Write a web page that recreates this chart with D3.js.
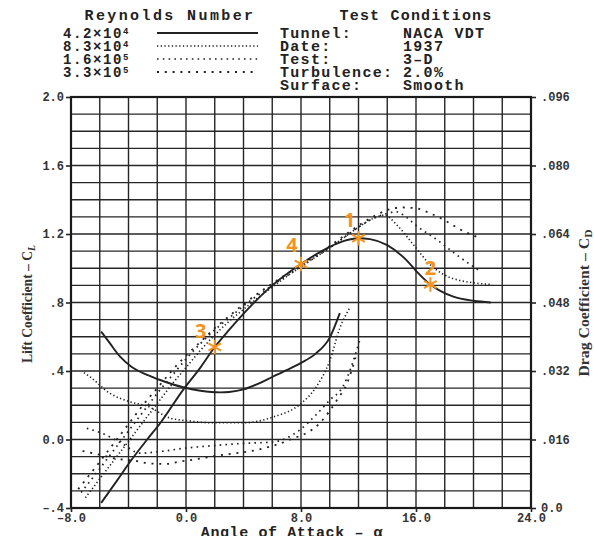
<!DOCTYPE html>
<meta charset="utf-8">
<style>
body { margin: 0; background: #fff; }
svg { display: block; }
.mono { font-family: "Liberation Mono", "DejaVu Sans Mono", monospace; font-weight: bold; fill: #222; }
.grid line { stroke: #262626; stroke-width: 1.4; }
.axis text { font-family: "Liberation Mono", monospace; font-weight: bold; font-size: 12px; fill: #333; }
.axis line { stroke: #222; stroke-width: 1.6; }
.axis path { display: none; }
.curve { fill: none; stroke: #222; }
</style>
<svg width="594" height="536"></svg>
<script src="https://cdn.jsdelivr.net/npm/d3@7"></script>
<script>

// ---- data ----
var reMantissa = ["4.2", "8.3", "1.6", "3.3"];
var reExponent = ["4", "4", "5", "5"];

var condLabels = ["Tunnel:", "Date:", "Test:", "Turbulence:", "Surface:"];
var condValues = ["NACA VDT", "1937", "3\u2013D", "2.0%", "Smooth"];

var alphaTicks = [-8, 0, 8, 16, 24];
var alphaTickLabels = ["\u20138.0", "0.0", "8.0", "16.0", "24.0"];
var liftTicks = [-0.4, 0, 0.4, 0.8, 1.2, 1.6, 2.0];
var liftTickLabels = ["\u2013.4", "0.0", ".4", ".8", "1.2", "1.6", "2.0"];
var dragTicks = [0, 0.016, 0.032, 0.048, 0.064, 0.080, 0.096];
var dragTickLabels = ["0.0", ".016", ".032", ".048", ".064", ".080", ".096"];

// lift coefficient vs angle of attack  [alpha, CL]
var lift42 = [[-5.9,-0.37],[-4.8,-0.24],[-3.8,-0.12],[-2.7,0.0],[-1.8,0.095],[-0.2,0.29],[1.0,0.42],[2.0,0.54],[3.0,0.64],[4.4,0.77],[6.0,0.90],[8.0,1.025],[10.0,1.125],[11.0,1.16],[12.0,1.175],[12.8,1.17],[14.0,1.135],[15.3,1.05],[16.0,0.985],[17.0,0.905],[18.6,0.834],[20.0,0.81],[21.2,0.80]];
var lift83 = [[-7.0,-0.34],[-6,-0.23],[-5,-0.12],[-4,-0.01],[-3,0.10],[-2,0.21],[-1,0.32],[0,0.42],[1,0.52],[2,0.61],[3,0.69],[4,0.76],[6,0.89],[8,1.01],[10,1.12],[11,1.18],[12,1.24],[13,1.29],[13.8,1.31],[14.7,1.25],[15.8,1.14],[17,1.02],[18,0.96],[19,0.93],[20,0.915],[21.3,0.905]];
var lift16 = [[-7.3,-0.31],[-6,-0.17],[-5,-0.06],[-4,0.05],[-3,0.16],[-2,0.27],[-1,0.37],[0,0.47],[1,0.56],[2,0.64],[3,0.71],[4,0.78],[6,0.90],[8,1.01],[10,1.12],[11,1.18],[12,1.24],[13,1.29],[14,1.32],[14.6,1.33],[15.3,1.30],[16,1.25],[17.4,1.17],[18.8,1.08],[20.5,0.98]];
var lift33 = [[-7.5,-0.29],[-6,-0.13],[-5,-0.02],[-4,0.09],[-3,0.20],[-2,0.30],[-1,0.40],[0,0.49],[1,0.57],[2,0.65],[3,0.72],[4,0.79],[6,0.91],[8,1.02],[10,1.13],[11,1.19],[12,1.25],[13,1.30],[14,1.34],[15,1.355],[16,1.35],[17,1.32],[18,1.28],[19,1.23],[20.5,1.175]];

// drag coefficient vs angle of attack  [alpha, CD]
var drag42 = [[-5.9,.0412],[-5.3,.0385],[-4.6,.0354],[-3.8,.0330],[-2.7,.0311],[-1.8,.0299],[-0.2,.0282],[1.0,.0274],[2.4,.0270],[3.0,.0271],[4.0,.0277],[5.0,.0290],[6.0,.0306],[7.0,.0322],[8.0,.0339],[9.0,.0360],[10.0,.0398],[10.7,.0455]];
var drag83 = [[-7.1,.0316],[-6.7,.0307],[-5.3,.0268],[-3.9,.0248],[-2.7,.0238],[-1.1,.0210],[0.3,.0203],[1.7,.0199],[4.0,.0199],[6.1,.0213],[8.0,.0244],[9.0,.0280],[10.0,.0344],[10.7,.0420],[11.4,.0468]];
var drag16 = [[-6.9,.0186],[-5.8,.0174],[-4.5,.0152],[-3.2,.0128],[-1.8,.0132],[0,.0140],[2,.0146],[4,.0151],[6,.0154],[7.9,.0182],[9,.0216],[10,.0252],[10.9,.0283],[11.5,.0330],[12.1,.0394]];
var drag33 = [[-7.2,.0133],[-6.2,.0126],[-5,.0116],[-3.5,.0110],[-2.5,.0104],[-1.3,.0103],[-0.5,.0108],[0.7,.0114],[2.1,.0122],[5.1,.0137],[7.2,.0159],[9.3,.0198],[10.5,.0252],[11.2,.0291],[11.8,.0352]];

// orange markers
var markAlpha = [12, 17, 2, 8];
var markLift = [1.175, 0.905, 0.54, 1.025];
var markLabels = ["1", "2", "3", "4"];

// ---- layout ----
var svg = d3.select("svg");
var plotL = 71, plotR = 531, plotT = 97, plotB = 508;

var x = d3.scaleLinear().domain([-8, 24]).range([plotL, plotR]);
var yL = d3.scaleLinear().domain([-0.4, 2.0]).range([plotB, plotT]);
var yD = d3.scaleLinear().domain([0, 0.096]).range([plotB, plotT]);

// grid
var grid = svg.append("g").attr("class", "grid");
grid.selectAll(".v").data(d3.range(-8, 24.01, 2)).enter().append("line")
    .attr("x1", d => x(d)).attr("x2", d => x(d))
    .attr("y1", plotT).attr("y2", plotB);
grid.selectAll(".h").data(d3.range(0, 25)).enter().append("line")
    .attr("x1", plotL).attr("x2", plotR)
    .attr("y1", d => yL(-0.4 + d * 0.1)).attr("y2", d => yL(-0.4 + d * 0.1));

svg.append("rect")
    .attr("x", plotL).attr("y", plotT)
    .attr("width", plotR - plotL).attr("height", plotB - plotT)
    .attr("fill", "none").attr("stroke", "#1a1a1a").attr("stroke-width", 2.2);

// axes
svg.append("g").attr("class", "axis")
    .attr("transform", "translate(" + plotL + ",0)")
    .call(d3.axisLeft(yL).tickValues(liftTicks).tickSize(5).tickPadding(2)
      .tickFormat((d, i) => liftTickLabels[i]));

svg.append("g").attr("class", "axis")
    .attr("transform", "translate(" + plotR + ",0)")
    .call(d3.axisRight(yD).tickValues(dragTicks).tickSize(5).tickPadding(5)
      .tickFormat((d, i) => dragTickLabels[i]));

svg.append("g").attr("class", "axis")
    .attr("transform", "translate(0," + plotB + ")")
    .call(d3.axisBottom(x).tickValues(alphaTicks).tickSize(4).tickPadding(1)
      .tickFormat((d, i) => alphaTickLabels[i]));

// curves
var styles = [
  { w: 1.9, dash: null },
  { w: 1.6, dash: "1.3,2.4" },
  { w: 1.7, dash: "1.6,4.2" },
  { w: 1.8, dash: "2,5.8" }
];

var lineL = d3.line().x(d => x(d[0])).y(d => yL(d[1])).curve(d3.curveMonotoneX);
var lineD = d3.line().x(d => x(d[0])).y(d => yD(d[1])).curve(d3.curveMonotoneX);

[lift42, lift83, lift16, lift33].forEach(function(s, i) {
  svg.append("path").attr("class", "curve").attr("d", lineL(s))
    .attr("stroke-width", styles[i].w).attr("stroke-dasharray", styles[i].dash);
});
[drag42, drag83, drag16, drag33].forEach(function(s, i) {
  svg.append("path").attr("class", "curve").attr("d", lineD(s))
    .attr("stroke-width", styles[i].w).attr("stroke-dasharray", styles[i].dash);
});

// legend: Reynolds number
svg.append("text").attr("class", "mono")
    .attr("x", 170).attr("y", 20).attr("text-anchor", "middle")
    .style("font-size", "15px").style("letter-spacing", "2.4px")
    .text("Reynolds Number");

var rowY = [33, 46, 59, 72, 85];

reMantissa.forEach(function(m, i) {
  var t = svg.append("text").attr("class", "mono")
      .attr("x", 63).attr("y", rowY[i] + 5)
      .style("font-size", "14px").style("letter-spacing", "1.6px");
  t.append("tspan").text(m + "\u00d710");
  t.append("tspan").attr("dy", -4).style("font-size", "9px").text(reExponent[i]);
  svg.append("line")
      .attr("x1", 157).attr("x2", 258)
      .attr("y1", rowY[i]).attr("y2", rowY[i])
      .attr("stroke", "#222")
      .attr("stroke-width", styles[i].w)
      .attr("stroke-dasharray", styles[i].dash);
});

// legend: test conditions
svg.append("text").attr("class", "mono")
    .attr("x", 416).attr("y", 20).attr("text-anchor", "middle")
    .style("font-size", "15px").style("letter-spacing", "1.2px")
    .text("Test Conditions");

condLabels.forEach(function(l, i) {
  svg.append("text").attr("class", "mono")
      .attr("x", 280).attr("y", rowY[i] + 5)
      .style("font-size", "15px").style("letter-spacing", "1.3px")
      .text(l);
  svg.append("text").attr("class", "mono")
      .attr("x", 403).attr("y", rowY[i] + 5)
      .style("font-size", "15px").style("letter-spacing", "1.3px")
      .text(condValues[i]);
});

// axis titles
svg.append("text").attr("class", "mono")
    .attr("x", 292).attr("y", 537).attr("text-anchor", "middle")
    .style("font-size", "15px").style("letter-spacing", "0.6px")
    .text("Angle of Attack \u2013 \u03b1");

var ly = svg.append("text")
    .attr("transform", "translate(32,304) rotate(-90)")
    .attr("text-anchor", "middle")
    .attr("textLength", 118).attr("lengthAdjust", "spacingAndGlyphs")
    .style("font-family", "Liberation Serif, serif").style("font-weight", "bold")
    .style("font-size", "14px").style("fill", "#333");
ly.append("tspan").text("Lift Coefficient \u2013 C");
ly.append("tspan").attr("dy", 3).style("font-size", "10px").style("font-style", "italic").text("L");

var ry = svg.append("text")
    .attr("transform", "translate(589,303) rotate(-90)")
    .attr("text-anchor", "middle")
    .attr("textLength", 147).attr("lengthAdjust", "spacingAndGlyphs")
    .style("font-family", "Liberation Serif, serif").style("font-weight", "bold")
    .style("font-size", "15px").style("fill", "#333");
ry.append("tspan").text("Drag Coefficient \u2013 C");
ry.append("tspan").attr("dy", 3).style("font-size", "11px").text("D");

// orange markers
var orange = "#f39322";
var nudge = [[-9, -18], [0, -17], [-14, -16], [-9, -19]];
var star = d3.symbol().type(d3.symbolAsterisk).size(150);

markAlpha.forEach(function(a, i) {
  svg.append("path")
      .attr("d", star)
      .attr("transform", "translate(" + x(a) + "," + yL(markLift[i]) + ")")
      .attr("stroke", orange).attr("stroke-width", 2).attr("fill", "none");
  svg.append("text")
      .attr("x", x(a) + nudge[i][0]).attr("y", yL(markLift[i]) + nudge[i][1] + 7)
      .attr("text-anchor", "middle")
      .style("font-family", "Open Sans, Liberation Sans, sans-serif")
      .style("font-weight", "bold").style("font-size", "20px")
      .style("fill", orange)
      .text(markLabels[i]);
});

</script>
